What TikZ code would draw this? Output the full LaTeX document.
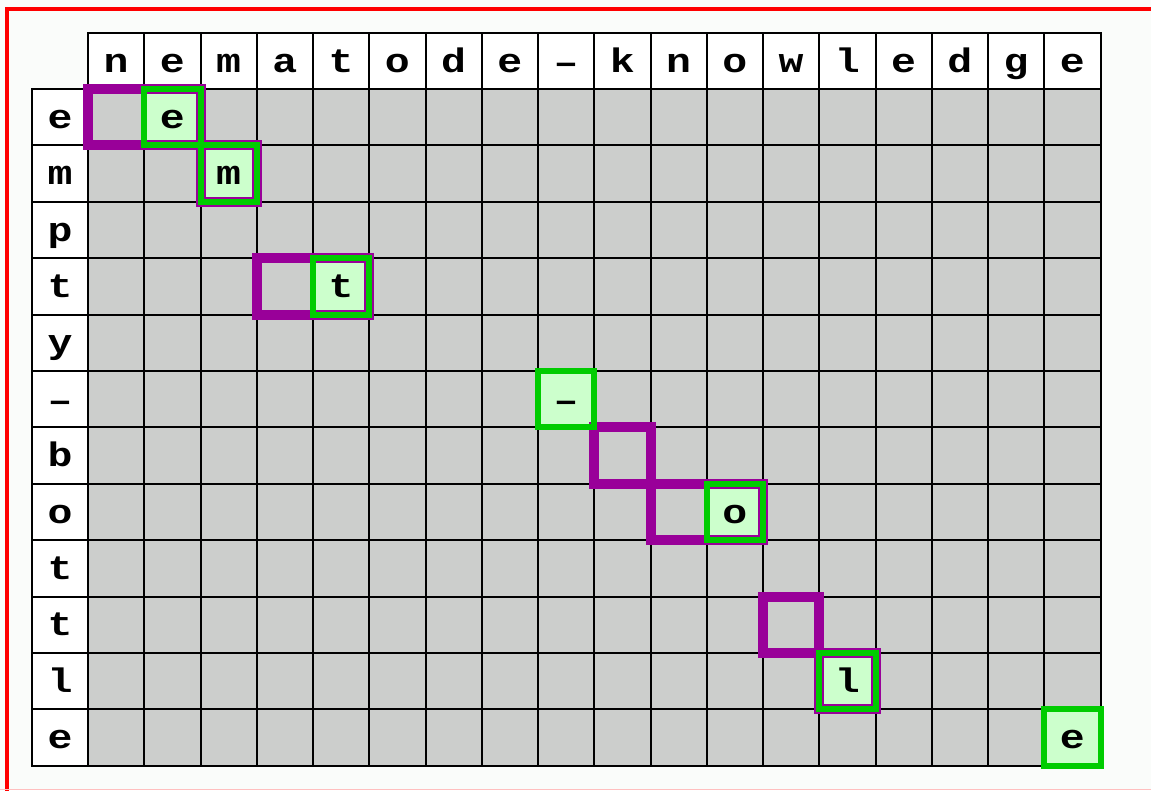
\documentclass[tikz,border=0pt]{standalone}
\usepackage{fontspec}
\newfontfamily\cellfont{Liberation Mono}[FakeStretch=1.22]
\definecolor{bgcol}{RGB}{250,252,250}
\definecolor{cellgray}{RGB}{204,206,204}
\definecolor{lgreen}{RGB}{204,255,204}
\definecolor{mgreen}{RGB}{0,204,0}
\definecolor{mpurple}{RGB}{153,0,153}
\definecolor{framered}{RGB}{255,0,0}
\tikzset{
  cellbox/.style={draw=black, line width=2pt, inner sep=0pt, outer sep=0pt,
    minimum width=56.25pt, minimum height=56.4pt, fill=cellgray},
  headbox/.style={cellbox, fill=white},
  letter/.style={inner sep=0pt, outer sep=0pt, font=\cellfont\bfseries\fontsize{34}{34}\selectfont,
    text height=22pt, text depth=0pt},
  pathbox/.style={draw=mpurple, line width=10pt},
  matchbox/.style={draw=mgreen, line width=6pt},
  cell 0-1/.style={fill=lgreen},
  cell 1-2/.style={fill=lgreen},
  cell 3-4/.style={fill=lgreen},
  cell 5-8/.style={fill=lgreen},
  cell 7-11/.style={fill=lgreen},
  cell 10-13/.style={fill=lgreen},
  cell 11-17/.style={fill=lgreen},
}
\newcommand{\dsh}{\raisebox{-1pt}{\textendash}}
\begin{document}
\begin{tikzpicture}[x=1pt,y=-1pt]
\useasboundingbox (0,0) rectangle (1151,790);
\clip (0,0) rectangle (1151,790);
\fill[bgcol] (0,0) rectangle (1151,790);
\draw[framered, line width=4pt] (7,800) -- (7,9) -- (1160,9);
\draw[framered!25, line width=1pt] (0,789.5) -- (1151,789.5);
% header row
\foreach \t [count=\i from 0] in {n,e,m,a,t,o,d,e,\dsh,k,n,o,w,l,e,d,g,e}{
  \node[headbox] (h-\i) at ({88+56.25*(\i+0.5)},61) {};
  \node[letter] (ht-\i) at (h-\i) {\t};
}
% row labels
\foreach \t [count=\j from 0] in {e,m,p,t,y,\dsh,b,o,t,t,l,e}{
  \node[headbox] (l-\j) at (60,{89+56.4*(\j+0.5)}) {};
  \node[letter] (lt-\j) at (l-\j) {\t};
}
% matrix cells
\foreach \r in {0,...,11}{
  \foreach \c in {0,...,17}{
    \node[cellbox, cell \r-\c/.try] (c-\r-\c) at ({88+56.25*(\c+0.5)},{89+56.4*(\r+0.5)}) {};
  }
}
% path
\draw[pathbox] (c-0-0.north west) rectangle (c-0-1.south east);
\draw[pathbox] (c-1-2.north west) rectangle (c-1-2.south east);
\draw[pathbox] (c-3-3.north west) rectangle (c-3-4.south east);
\draw[pathbox] (c-6-9.north west) rectangle (c-6-9.south east);
\draw[pathbox] (c-7-10.north west) rectangle (c-7-11.south east);
\draw[pathbox] (c-9-12.north west) rectangle (c-9-12.south east);
\draw[pathbox] (c-10-13.north west) rectangle (c-10-13.south east);
% matches
\foreach \r/\c/\t in {0/1/e,1/2/m,3/4/t,5/8/\dsh,7/11/o,10/13/l,11/17/e}{
  \draw[matchbox] (c-\r-\c.north west) rectangle (c-\r-\c.south east);
  \node[letter] (mt-\r-\c) at (c-\r-\c) {\t};
}
\end{tikzpicture}
\end{document}
